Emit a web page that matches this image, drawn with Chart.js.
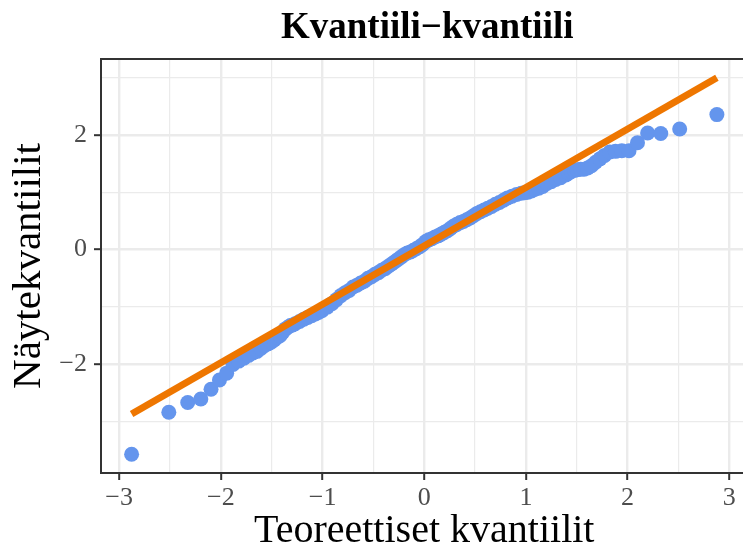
<!DOCTYPE html>
<html>
<head>
<meta charset="utf-8">
<script src="https://cdn.jsdelivr.net/npm/chart.js@4/dist/chart.umd.min.js"></script>
<style>
html,body{margin:0;padding:0;background:#fff;overflow:hidden;width:743px;height:551px}
#wrap{position:absolute;left:0;top:0;width:755px;height:551px}
</style>
</head>
<body>
<div id="wrap"><canvas id="c" width="755" height="551"></canvas></div>
<script>
// ---- text ----
const chartTitle = 'Kvantiili\u2212kvantiili';
const xAxisTitle = 'Teoreettiset kvantiilit';
const yAxisTitle = 'Näytekvantiilit';

// ---- tick labels (major breaks) ----
const xTickValues = [-3, -2, -1, 0, 1, 2, 3];
const yTickValues = [-2, 0, 2];

// ---- axis ranges ----
const xRange = [-3.179, 3.179];
const yRange = [-3.8875, 3.3175];

// ---- theoretical quantiles (x) ----
const theoretical = [
 -2.878,-2.512,-2.326,-2.197,-2.097,-2.014,-1.943,-1.881,-1.825,-1.774,
 -1.728,-1.685,-1.645,-1.607,-1.572,-1.538,-1.506,-1.476,-1.447,-1.419,
 -1.392,-1.366,-1.341,-1.317,-1.293,-1.270,-1.227,-1.185,-1.146,-1.108,
 -1.071,-1.036,-1.003,-0.954,-0.908,-0.863,-0.820,-0.779,-0.739,-0.700,
 -0.662,-0.625,-0.589,-0.553,-0.519,-0.485,-0.451,-0.418,-0.385,-0.353,
 -0.321,-0.290,-0.259,-0.228,-0.197,-0.167,-0.136,-0.106,-0.075,-0.045,
 -0.015,0.015,0.045,0.075,0.106,0.136,0.167,0.197,0.228,0.259,
 0.290,0.321,0.353,0.385,0.418,0.451,0.485,0.519,0.553,0.589,
 0.625,0.662,0.700,0.739,0.779,0.820,0.863,0.908,0.954,0.986,
 1.019,1.054,1.089,1.126,1.165,1.206,1.248,1.293,1.341,1.392,
 1.419,1.447,1.476,1.506,1.538,1.572,1.607,1.645,1.685,1.728,
 1.774,1.825,1.881,1.943,2.014,2.097,2.197,2.326,2.512,2.878
];

// ---- sample quantiles (y) ----
const sample = [
 -3.56,-2.83,-2.66,-2.60,-2.43,-2.27,-2.15,-2.00,-1.94,-1.89,
 -1.84,-1.80,-1.77,-1.72,-1.67,-1.64,-1.61,-1.57,-1.53,-1.50,
 -1.44,-1.38,-1.35,-1.32,-1.31,-1.29,-1.25,-1.21,-1.18,-1.15,
 -1.12,-1.09,-1.06,-1.00,-0.94,-0.87,-0.80,-0.75,-0.71,-0.65,
 -0.62,-0.58,-0.55,-0.50,-0.47,-0.43,-0.40,-0.36,-0.33,-0.29,
 -0.25,-0.21,-0.17,-0.13,-0.09,-0.06,-0.04,-0.01,0.02,0.05,
 0.09,0.14,0.17,0.19,0.22,0.24,0.27,0.30,0.33,0.37,
 0.41,0.44,0.47,0.49,0.52,0.55,0.59,0.63,0.66,0.69,
 0.72,0.75,0.79,0.82,0.86,0.90,0.93,0.96,0.98,0.99,
 1.00,1.02,1.05,1.07,1.10,1.15,1.18,1.22,1.25,1.30,
 1.33,1.36,1.38,1.39,1.40,1.40,1.42,1.46,1.52,1.58,
 1.64,1.70,1.71,1.72,1.72,1.86,2.03,2.02,2.10,2.35
];

// ---- reference line end points ----
const lineX = [-2.878, 2.878];
const lineY = [-2.86, 2.99];

const SERIF = '"Liberation Serif", "DejaVu Serif", serif';
const fmt = v => (v < 0 ? '\u2212' + Math.abs(v) : String(v));

function withMinor(major, lo, hi) {
  const out = [];
  const step = major[1] - major[0];
  const first = major[0] - step, last = major[major.length - 1] + step;
  for (let v = first; v <= last + 1e-9; v += step / 2) {
    const r = Math.round(v * 1000) / 1000;
    if (r >= lo && r <= hi) out.push(r);
  }
  return out;
}
const isMajor = (arr, v) => arr.some(m => Math.abs(m - v) < 1e-9);

const gridFor = (majors) => ({
  color: '#EBEBEB',
  lineWidth: c => (c.tick && isMajor(majors, c.tick.value)) ? 2.4 : 1.2,
  tickColor: c => (c.tick && isMajor(majors, c.tick.value)) ? '#333333' : 'rgba(0,0,0,0)',
  tickWidth: 2,
  tickLength: 7,
  drawTicks: true
});

const frame = {
  id: 'frame',
  afterDraw(chart) {
    const {ctx, chartArea: a} = chart;
    ctx.save();
    ctx.strokeStyle = '#333333';
    ctx.lineWidth = 2;
    ctx.strokeRect(a.left, a.top, a.right - a.left, a.bottom - a.top);
    ctx.font = 'bold 37px ' + SERIF;
    ctx.fillStyle = '#000';
    ctx.textAlign = 'center';
    ctx.textBaseline = 'alphabetic';
    ctx.fillText(chartTitle, (a.left + a.right) / 2 + 3, 38);
    ctx.restore();
  }
};

new Chart(document.getElementById('c'), {
  type: 'scatter',
  data: {
    datasets: [
      {
        type: 'line',
        data: lineX.map((x, i) => ({x, y: lineY[i]})),
        borderColor: '#EE7600',
        borderWidth: 7,
        borderCapStyle: 'butt',
        pointRadius: 0,
        showLine: true,
        fill: false,
        order: 0
      },
      {
        type: 'scatter',
        data: theoretical.map((x, i) => ({x, y: sample[i]})),
        backgroundColor: '#6495ED',
        borderWidth: 0,
        pointRadius: 7.5,
        pointHoverRadius: 7.5,
        order: 1
      }
    ]
  },
  options: {
    responsive: false,
    animation: false,
    events: [],
    layout: {padding: {top: 59, right: 3, left: 0, bottom: 0}},
    plugins: {legend: {display: false}, tooltip: {enabled: false}, title: {display: false}},
    scales: {
      x: {
        type: 'linear',
        min: xRange[0], max: xRange[1],
        afterBuildTicks: s => { s.ticks = withMinor(xTickValues, xRange[0], xRange[1]).map(v => ({value: v})); },
        afterFit: s => { s.height = 78; },
        grid: gridFor(xTickValues),
        border: {display: false},
        ticks: {
          autoSkip: false, maxRotation: 0, padding: 3,
          color: '#4D4D4D',
          font: {family: SERIF, size: 26},
          callback: v => isMajor(xTickValues, v) ? fmt(v) : ''
        },
        title: {
          display: true, text: xAxisTitle, color: '#000',
          font: {family: SERIF, size: 40, lineHeight: 1},
          padding: {top: 0, bottom: 0}
        }
      },
      y: {
        type: 'linear',
        min: yRange[0], max: yRange[1],
        afterBuildTicks: s => { s.ticks = withMinor(yTickValues, yRange[0], yRange[1]).map(v => ({value: v})); },
        afterFit: s => { s.width = 101; },
        grid: gridFor(yTickValues),
        border: {display: false},
        ticks: {
          autoSkip: false, padding: 7,
          color: '#4D4D4D',
          font: {family: SERIF, size: 26},
          callback: v => isMajor(yTickValues, v) ? fmt(v) : ''
        },
        title: {
          display: true, text: yAxisTitle, color: '#000',
          font: {family: SERIF, size: 41, lineHeight: 1},
          padding: {top: 9, bottom: 0}
        }
      }
    }
  },
  plugins: [frame]
});
</script>
</body>
</html>
